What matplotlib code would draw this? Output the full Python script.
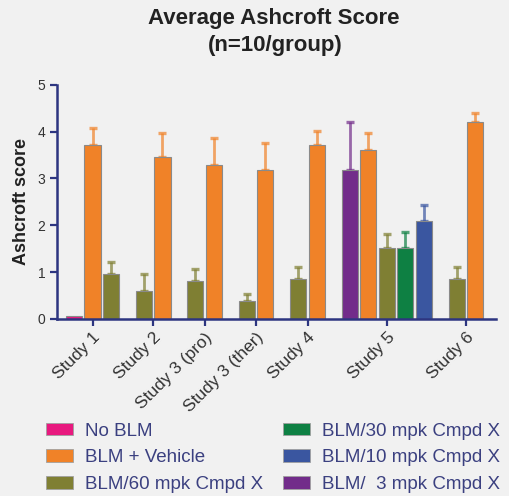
import numpy as np
import matplotlib.pyplot as plt
from matplotlib.patches import Patch

plt.rcParams['font.family'] = ['Liberation Sans', 'DejaVu Sans']

studies = ["Study 1", "Study 2", "Study 3 (pro)", "Study 3 (ther)",
           "Study 4", "Study 5", "Study 6"]

# group labels and colours
series = ["nb", "veh", "c60", "c30", "c10", "c3"]
series_labels = {
    "nb": "No BLM",
    "veh": "BLM + Vehicle",
    "c60": "BLM/60 mpk Cmpd X",
    "c30": "BLM/30 mpk Cmpd X",
    "c10": "BLM/10 mpk Cmpd X",
    "c3": "BLM/  3 mpk Cmpd X",
}
series_colors = {
    "nb": "#e8197f",
    "veh": "#f08228",
    "c60": "#7f7f33",
    "c30": "#0e8043",
    "c10": "#3a56a0",
    "c3": "#722c8a",
}

# mean and SEM per study (None = not run in that study)
nb_mean = [0.07, None, None, None, None, None, None]
nb_err = [0.0, None, None, None, None, None, None]
veh_mean = [3.72, 3.46, 3.29, 3.18, 3.72, 3.61, 4.21]
veh_err = [0.36, 0.51, 0.58, 0.58, 0.30, 0.36, 0.19]
c60_mean = [0.96, 0.60, 0.81, 0.38, 0.85, 1.52, 0.85]
c60_err = [0.26, 0.36, 0.26, 0.15, 0.26, 0.30, 0.26]
c30_mean = [None, None, None, None, None, 1.52, None]
c30_err = [None, None, None, None, None, 0.34, None]
c10_mean = [None, None, None, None, None, 2.09, None]
c10_err = [None, None, None, None, None, 0.35, None]
c3_mean = [None, None, None, None, None, 3.18, None]
c3_err = [None, None, None, None, None, 1.03, None]

means = {"nb": nb_mean, "veh": veh_mean, "c60": c60_mean,
         "c30": c30_mean, "c10": c10_mean, "c3": c3_mean}
errs = {"nb": nb_err, "veh": veh_err, "c60": c60_err,
        "c30": c30_err, "c10": c10_err, "c3": c3_err}

# bar order inside each study
bar_order = [
    ["nb", "veh", "c60"],
    ["c60", "veh"],
    ["c60", "veh"],
    ["c60", "veh"],
    ["c60", "veh"],
    ["c3", "veh", "c60", "c30", "c10"],
    ["c60", "veh"],
]

bg = "#f1f1f1"
axis_col = "#2d3580"
text_col = "#333333"
group_gap = 0.78
bar_w = 0.87

fig = plt.figure(figsize=(5.09, 4.96), dpi=100, facecolor=bg)
ax = fig.add_axes([0.112, 0.357, 0.862, 0.472], facecolor=bg)

pos = 0.0
tick_pos = []
for i, order in enumerate(bar_order):
    xs = []
    for key in order:
        m = means[key][i]
        e = errs[key][i]
        c = series_colors[key]
        ax.bar(pos, m, width=bar_w, color=c, edgecolor="#8a8a8a",
               linewidth=0.8, zorder=2)
        if e:
            ax.errorbar(pos, m, yerr=[[0], [e]], fmt="none", ecolor=c,
                        alpha=0.7, elinewidth=2.0, capsize=3.2,
                        capthick=2.4, zorder=1)
        xs.append(pos)
        pos += 1
    tick_pos.append(np.mean(xs))
    pos += group_gap

ax.set_xlim(-0.92, 22.79)
ax.set_ylim(0, 5)
ax.set_yticks(range(0, 6))
ax.set_xticks(tick_pos)
ax.set_xticklabels(studies, rotation=45, ha="right", rotation_mode="anchor",
                   fontsize=12.5)
ax.tick_params(axis="y", labelsize=10, colors=axis_col, labelcolor=text_col,
               length=5, width=1.6)
ax.tick_params(axis="x", colors=axis_col, labelcolor=text_col, length=5,
               width=1.6, pad=3)

for s in ["top", "right"]:
    ax.spines[s].set_visible(False)
for s in ["left", "bottom"]:
    ax.spines[s].set_color(axis_col)
    ax.spines[s].set_linewidth(1.8)

ax.set_ylabel("Ashcroft score", fontsize=13, fontweight="bold",
              color="#222222", labelpad=5)

fig.text(0.538, 0.963, "Average Ashcroft Score", ha="center", va="center",
         fontsize=16, fontweight="bold", color="#222222")
fig.text(0.54, 0.909, "(n=10/group)", ha="center", va="center",
         fontsize=16, fontweight="bold", color="#222222")

handles = [Patch(facecolor=series_colors[k], edgecolor="#a0a0a0",
                 linewidth=0.6, label=series_labels[k]) for k in series]
leg = fig.legend(handles=handles, ncol=2, loc="upper left",
                 bbox_to_anchor=(0.09, 0.148), frameon=False,
                 fontsize=13.5, handlelength=1.45, handleheight=0.65,
                 handletextpad=0.64, labelspacing=0.52, columnspacing=1.07,
                 borderpad=0, borderaxespad=0)
for t in leg.get_texts():
    t.set_color("#3b4080")

fig.savefig("out.png", dpi=100, facecolor=bg)
